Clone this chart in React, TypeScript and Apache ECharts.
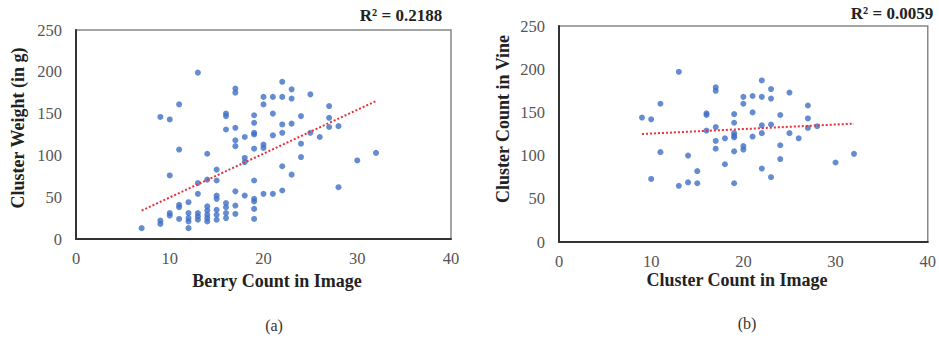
import React, { useEffect, useRef } from "react";
import * as echarts from "echarts";

// Panel (a): Berry Count in Image vs Cluster Weight (in g)
const berryCount = [
  7, 9, 9, 9, 10, 10, 10, 10, 11, 11, 11, 11, 11, 12, 12, 12, 12, 12,
  13, 13, 13, 13, 13, 13, 14, 14, 14, 14, 14, 14, 14,
  15, 15, 15, 15, 15, 15, 15, 16, 16, 16, 16, 16, 16, 16,
  17, 17, 17, 17, 17, 17, 17, 17, 18, 18, 18, 18,
  19, 19, 19, 19, 19, 19, 19, 19, 19, 19, 20, 20, 20, 20, 20,
  21, 21, 21, 21, 22, 22, 22, 22, 22, 22, 23, 23, 23, 23,
  24, 24, 24, 25, 25, 26, 27, 27, 27, 28, 28, 30, 32,
];
const clusterWeight = [
  13, 146, 22, 18, 143, 76, 31, 28, 161, 107, 41, 38, 24, 44, 31, 25, 21, 13,
  199, 67, 54, 31, 27, 23, 102, 71, 39, 34, 29, 25, 21,
  83, 70, 52, 48, 35, 29, 23, 150, 147, 131, 43, 38, 31, 25,
  180, 175, 133, 118, 111, 57, 40, 30, 122, 97, 92, 52,
  148, 139, 127, 125, 108, 70, 48, 45, 36, 24, 170, 161, 113, 109, 54,
  170, 150, 124, 54, 188, 170, 137, 127, 87, 58, 179, 168, 138, 77,
  147, 114, 98, 173, 127, 122, 159, 145, 134, 135, 62, 94, 103,
];
const trendAX = [7, 32];
const trendAY = [34, 165];

// Panel (b): Cluster Count in Image vs Cluster Count in Vine
const clusterImage = [
  9, 10, 10, 11, 11, 13, 13, 14, 14, 15, 15, 16, 16, 16,
  17, 17, 17, 17, 17, 18, 18, 19, 19, 19, 19, 19, 19, 19,
  20, 20, 20, 20, 21, 21, 21, 22, 22, 22, 22, 22,
  23, 23, 23, 23, 24, 24, 24, 25, 25, 26, 27, 27, 27, 28, 30, 32,
];
const clusterVine = [
  144, 142, 73, 160, 104, 197, 65, 100, 69, 82, 68, 149, 147, 129,
  179, 175, 133, 117, 108, 120, 90, 148, 138, 126, 123, 121, 105, 68,
  168, 160, 111, 107, 169, 150, 122, 187, 168, 135, 126, 85,
  177, 166, 136, 75, 147, 112, 96, 173, 126, 120, 158, 143, 132, 134, 92, 102,
];
const trendBX = [9, 32];
const trendBY = [125, 137];

const xTicks = { min: 0, max: 40, interval: 10 };
const yTicks = { min: 0, max: 250, interval: 50 };

const R2A = "R² = 0.2188";
const R2B = "R² = 0.0059";

const FONT = "'Liberation Serif', 'Times New Roman', serif";
const BLUE = "#3f6fc6";

export default function App() {
  const ref = useRef<HTMLDivElement>(null);
  useEffect(() => {
    if (!ref.current) return;
    const chart = echarts.init(ref.current, null, { renderer: "svg" });
    const grids = [
      { left: 76, top: 30, width: 375, height: 209 },
      { left: 559, top: 26, width: 369, height: 216 },
    ];
    const mkX = (i: number) => ({
      type: "value",
      gridIndex: i,
      ...xTicks,
      axisLine: { show: true, onZero: false, lineStyle: { color: "#333", width: 2 } },
      axisTick: { show: false },
      splitLine: { show: false },
      axisLabel: { fontFamily: FONT, fontSize: 16.5, color: "#555", margin: 11 },
    });
    const mkY = (i: number) => ({
      type: "value",
      gridIndex: i,
      ...yTicks,
      axisLine: { show: true, onZero: false, lineStyle: { color: "#333", width: 2 } },
      axisTick: { show: false },
      splitLine: { show: false },
      axisLabel: { fontFamily: FONT, fontSize: 16.5, color: "#555", margin: 14 },
    });
    const pts = (xs: number[], ys: number[]) => xs.map((x, i) => [x, ys[i]]);
    const title = (text: string, x: number, y: number, rotate = 0, size = 18) => ({
      type: "text",
      x,
      y,
      rotation: rotate,
      style: {
        text,
        fontFamily: FONT,
        fontWeight: "bold",
        fontSize: size,
        fill: "#222",
        align: "center",
        verticalAlign: "middle",
      },
    });
    const plain = (text: string, x: number, y: number) => ({
      type: "text",
      x,
      y,
      style: {
        text,
        fontFamily: FONT,
        fontSize: 16,
        fill: "#333",
        align: "center",
        verticalAlign: "middle",
      },
    });
    chart.setOption({
      animation: false,
      grid: grids.map((g) => ({
        ...g,
        show: true,
        borderColor: "#888",
        borderWidth: 1.5,
        backgroundColor: "#fff",
      })),
      xAxis: [mkX(0), mkX(1)],
      yAxis: [mkY(0), mkY(1)],
      series: [
        {
          type: "scatter",
          xAxisIndex: 0,
          yAxisIndex: 0,
          data: pts(berryCount, clusterWeight),
          symbolSize: 6,
          itemStyle: { color: BLUE },
        },
        {
          type: "line",
          xAxisIndex: 0,
          yAxisIndex: 0,
          data: pts(trendAX, trendAY),
          showSymbol: false,
          lineStyle: { color: "#e8303a", width: 2, type: [2, 2] },
        },
        {
          type: "scatter",
          xAxisIndex: 1,
          yAxisIndex: 1,
          data: pts(clusterImage, clusterVine),
          symbolSize: 6,
          itemStyle: { color: BLUE },
        },
        {
          type: "line",
          xAxisIndex: 1,
          yAxisIndex: 1,
          data: pts(trendBX, trendBY),
          showSymbol: false,
          lineStyle: { color: "#e8303a", width: 2, type: [2, 2] },
        },
      ],
      graphic: [
        title("Berry Count in Image", 277, 281),
        title("Cluster Weight (in g)", 18, 128, Math.PI / 2),
        title(R2A, 401, 15, 0, 17),
        plain("(a)", 274, 325),
        title("Cluster Count in Image", 737, 280),
        title("Cluster Count in Vine", 503, 119, Math.PI / 2),
        title(R2B, 892, 13, 0, 17),
        plain("(b)", 747, 323),
      ],
    });
    return () => chart.dispose();
  }, []);
  return (
    <div
      ref={ref}
      style={{ position: "fixed", left: 0, top: 0, width: 939, height: 341, background: "#fff" }}
    />
  );
}
